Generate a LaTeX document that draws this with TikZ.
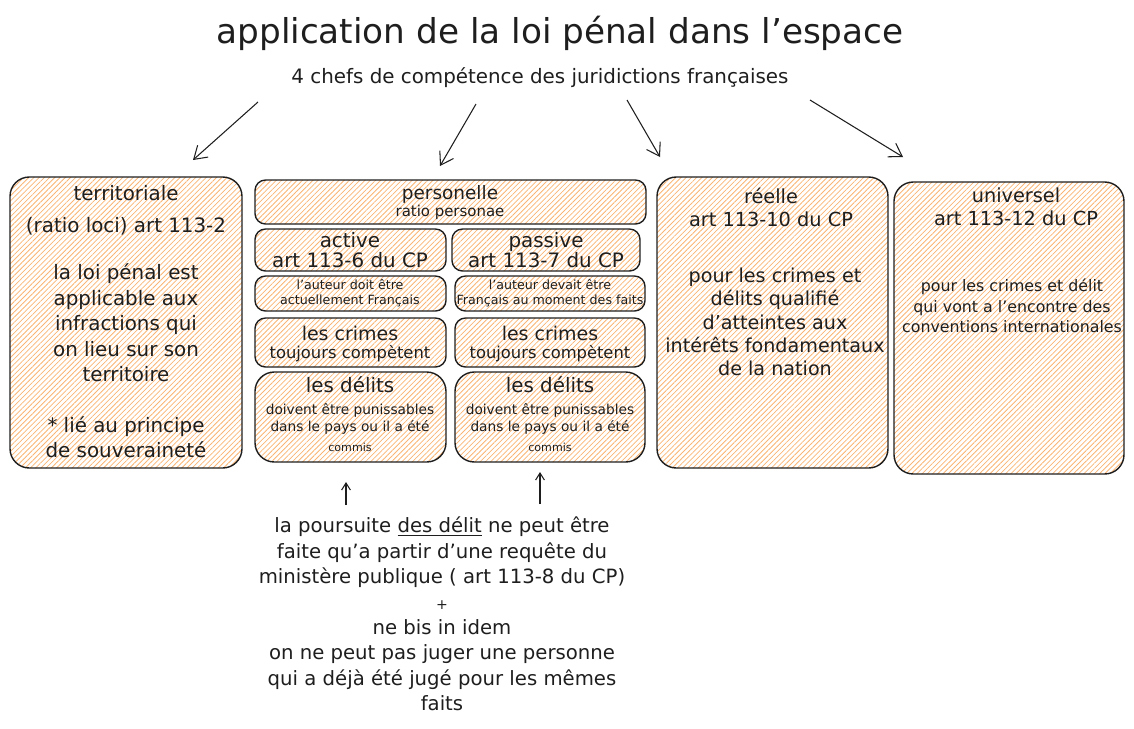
\documentclass[tikz,border=0pt]{standalone}
\usepackage{fontspec}
\setmainfont{DejaVu Sans}
\usetikzlibrary{
  arrows.meta,
  patterns.meta,
  calc
}
\definecolor{hatchclr}{RGB}{250, 180, 115}
\definecolor{inkclr}{RGB}{30, 30, 30}
\newcommand{\fsz}[2]{\fontsize{#1}{#2}\selectfont}
\tikzset{
  % Boites hachurees
  bigbox/.style   = {draw=inkclr, line width=0.8pt, rounded corners=11pt,
                     pattern={Lines[angle=45,distance=2.1pt,line width=0.45pt]},
                     pattern color=hatchclr},
  smallbox/.style = {bigbox, rounded corners=6pt},
  % Fleches
  flow/.style     = {-{Straight Barb[length=7pt,width=9pt]}, inkclr, line width=0.6pt},
  upflow/.style   = {-{Straight Barb[length=4pt,width=5pt]}, inkclr, line width=0.6pt},
  % Textes
  lab/.style      = {align=center, inner sep=0pt, text=inkclr},
}

\begin{document}
\begin{tikzpicture}[x=0.02cm, y=-0.02cm]
  \useasboundingbox (0,0) rectangle (1134,728);
  % Titre
  \node[lab, font=\fsz{19.5}{23}] (title) at (560,33) {application de la loi pénal dans l'espace};
  \node[lab, font=\fsz{11.3}{13}] (sub) at (540,78) {4 chefs de compétence des juridictions françaises};
  % Fleches vers les quatre chefs
  \coordinate (s1) at (258,102); \coordinate (e1) at (193,160);
  \coordinate (s2) at (476,104); \coordinate (e2) at (440,166);
  \coordinate (s3) at (627,100); \coordinate (e3) at (660,157);
  \coordinate (s4) at (810,100); \coordinate (e4) at (903,157);
  \draw[flow] (s1) -- (e1);
  \draw[flow] (s2) -- (e2);
  \draw[flow] (s3) -- (e3);
  \draw[flow] (s4) -- (e4);
  % Territoriale
  \draw[bigbox] (10,177) rectangle (242,468);
  \node[lab, font=\fsz{11.3}{14.5}] (terr) at (126,193) {territoriale};
  \node[lab, font=\fsz{11.3}{14.5}] (terrart) at (126,226) {(ratio loci) art 113-2};
  \node[lab, font=\fsz{11.3}{14.5}] (terrtxt) at (126,323) {la loi pénal est\\applicable aux\\infractions qui\\on lieu sur son\\territoire};
  \node[lab, font=\fsz{11.3}{14.5}] (terrnote) at (126,437) {* lié au principe\\de souveraineté};
  % Personnelle
  \draw[smallbox] (255,180) rectangle (646,224);
  \node[lab, font=\fsz{10.5}{12}] (pers) at (450,194) {personelle};
  \node[lab, font=\fsz{8.5}{10}] (perssub) at (450,212) {ratio personae};
  \draw[smallbox] (255,229) rectangle (446,271);
  \node[lab, font=\fsz{11.3}{11.2}] (act) at (350,250) {active\\art 113-6 du CP};
  \draw[smallbox] (452,229) rectangle (640,271);
  \node[lab, font=\fsz{11.3}{11.2}] (pas) at (546,250) {passive\\art 113-7 du CP};
  \draw[smallbox] (255,276) rectangle (446,311);
  \node[lab, font=\fsz{7.2}{8.2}] (actaut) at (350,293) {l'auteur doit être\\actuellement Français};
  \draw[smallbox] (455,276) rectangle (645,311);
  \node[lab, font=\fsz{7.2}{8.2}] (pasaut) at (550,293) {l'auteur devait être\\Français au moment des faits};
  \draw[smallbox] (255,318) rectangle (446,367);
  \node[lab, font=\fsz{10.8}{12}] (actcr) at (350,333) {les crimes};
  \node[lab, font=\fsz{9.3}{11}] (actcrtxt) at (350,354) {toujours compètent};
  \draw[smallbox] (455,318) rectangle (645,367);
  \node[lab, font=\fsz{10.8}{12}] (pascr) at (550,333) {les crimes};
  \node[lab, font=\fsz{9.3}{11}] (pascrtxt) at (550,354) {toujours compètent};
  \draw[bigbox] (255,372) rectangle (446,462);
  \node[lab, font=\fsz{11.3}{12}] (actdel) at (350,385) {les délits};
  \node[lab, font=\fsz{7.8}{10}] (actdeltxt) at (350,419) {doivent être punissables\\dans le pays ou il a été};
  \node[lab, font=\fsz{6.3}{7}] (actdelc) at (350,447) {commis};
  \draw[bigbox] (455,372) rectangle (645,462);
  \node[lab, font=\fsz{11.3}{12}] (pasdel) at (550,385) {les délits};
  \node[lab, font=\fsz{7.8}{10}] (pasdeltxt) at (550,419) {doivent être punissables\\dans le pays ou il a été};
  \node[lab, font=\fsz{6.3}{7}] (pasdelc) at (550,447) {commis};
  % Reelle
  \draw[bigbox] (657,177) rectangle (888,468);
  \node[lab, font=\fsz{11}{13}] (reel) at (771,207) {réelle\\art 113-10 du CP};
  \node[lab, font=\fsz{10.9}{13.3}] (reeltxt) at (775,322) {pour les crimes et\\délits qualifié\\d'atteintes aux\\intérêts fondamentaux\\de la nation};
  % Universel
  \draw[bigbox] (894,182) rectangle (1124,474);
  \node[lab, font=\fsz{11}{13}] (univ) at (1016,207) {universel\\art 113-12 du CP};
  \node[lab, font=\fsz{9}{11.6}] (univtxt) at (1012,306) {pour les crimes et délit\\qui vont a l'encontre des\\conventions internationales};
  % Poursuite des delits
  \node[lab, font=\fsz{11.2}{14.5}] (pours) at (442,614) {la poursuite \underline{des délit} ne peut être\\faite qu'a partir d'une requête du\\ministère publique ( art 113-8 du CP)\\{\fsz{8}{14.5}+}\\ne bis in idem\\on ne peut pas juger une personne\\qui a déjà été jugé pour les mêmes\\faits};
  \coordinate (u1s) at (346,505); \coordinate (u1e) at (346,482);
  \coordinate (u2s) at (540,504); \coordinate (u2e) at (540,472);
  \draw[upflow] (u1s) -- (u1e);
  \draw[upflow] (u2s) -- (u2e);
\end{tikzpicture}
\end{document}
